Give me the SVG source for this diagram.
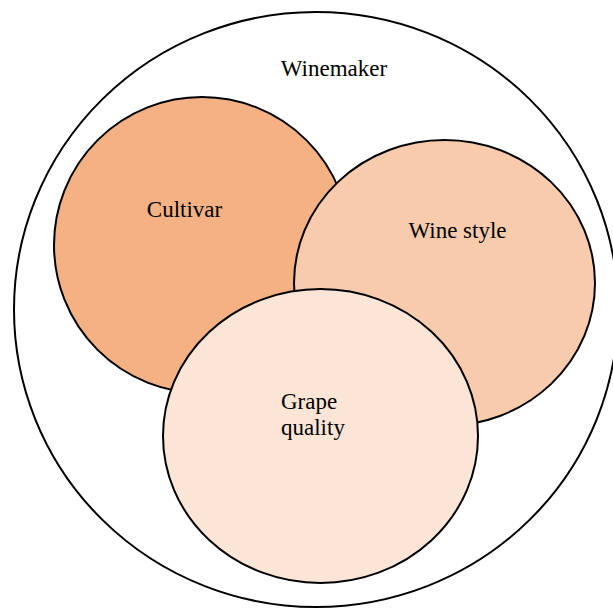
<svg xmlns="http://www.w3.org/2000/svg" width="613" height="608" viewBox="0 0 613 608">
<style>
.shape{stroke:#000;stroke-width:2}
.lbl{font-family:"Liberation Serif","Times New Roman",serif;font-size:23px;fill:#000}
</style>
<rect width="613" height="608" fill="#fff"/>
<g id="winemaker">
<ellipse class="shape" cx="316" cy="309.5" rx="302" ry="297.5" fill="#fff"/>
<text class="lbl" x="334" y="76" text-anchor="middle">Winemaker</text>
</g>
<g id="cultivar">
<ellipse class="shape" cx="202" cy="245" rx="148" ry="148" fill="#F4B183"/>
<text class="lbl" x="184.5" y="217" text-anchor="middle">Cultivar</text>
</g>
<g id="wine-style">
<ellipse class="shape" cx="444.5" cy="283" rx="150.5" ry="143" fill="#F8CBAD"/>
<text class="lbl" x="457.5" y="238" text-anchor="middle">Wine style</text>
</g>
<g id="grape-quality">
<ellipse class="shape" cx="320.5" cy="436" rx="157.5" ry="147" fill="#FBE5D6"/>
<text class="lbl" x="281" y="409">Grape</text>
<text class="lbl" x="281" y="435">quality</text>
</g>
</svg>
